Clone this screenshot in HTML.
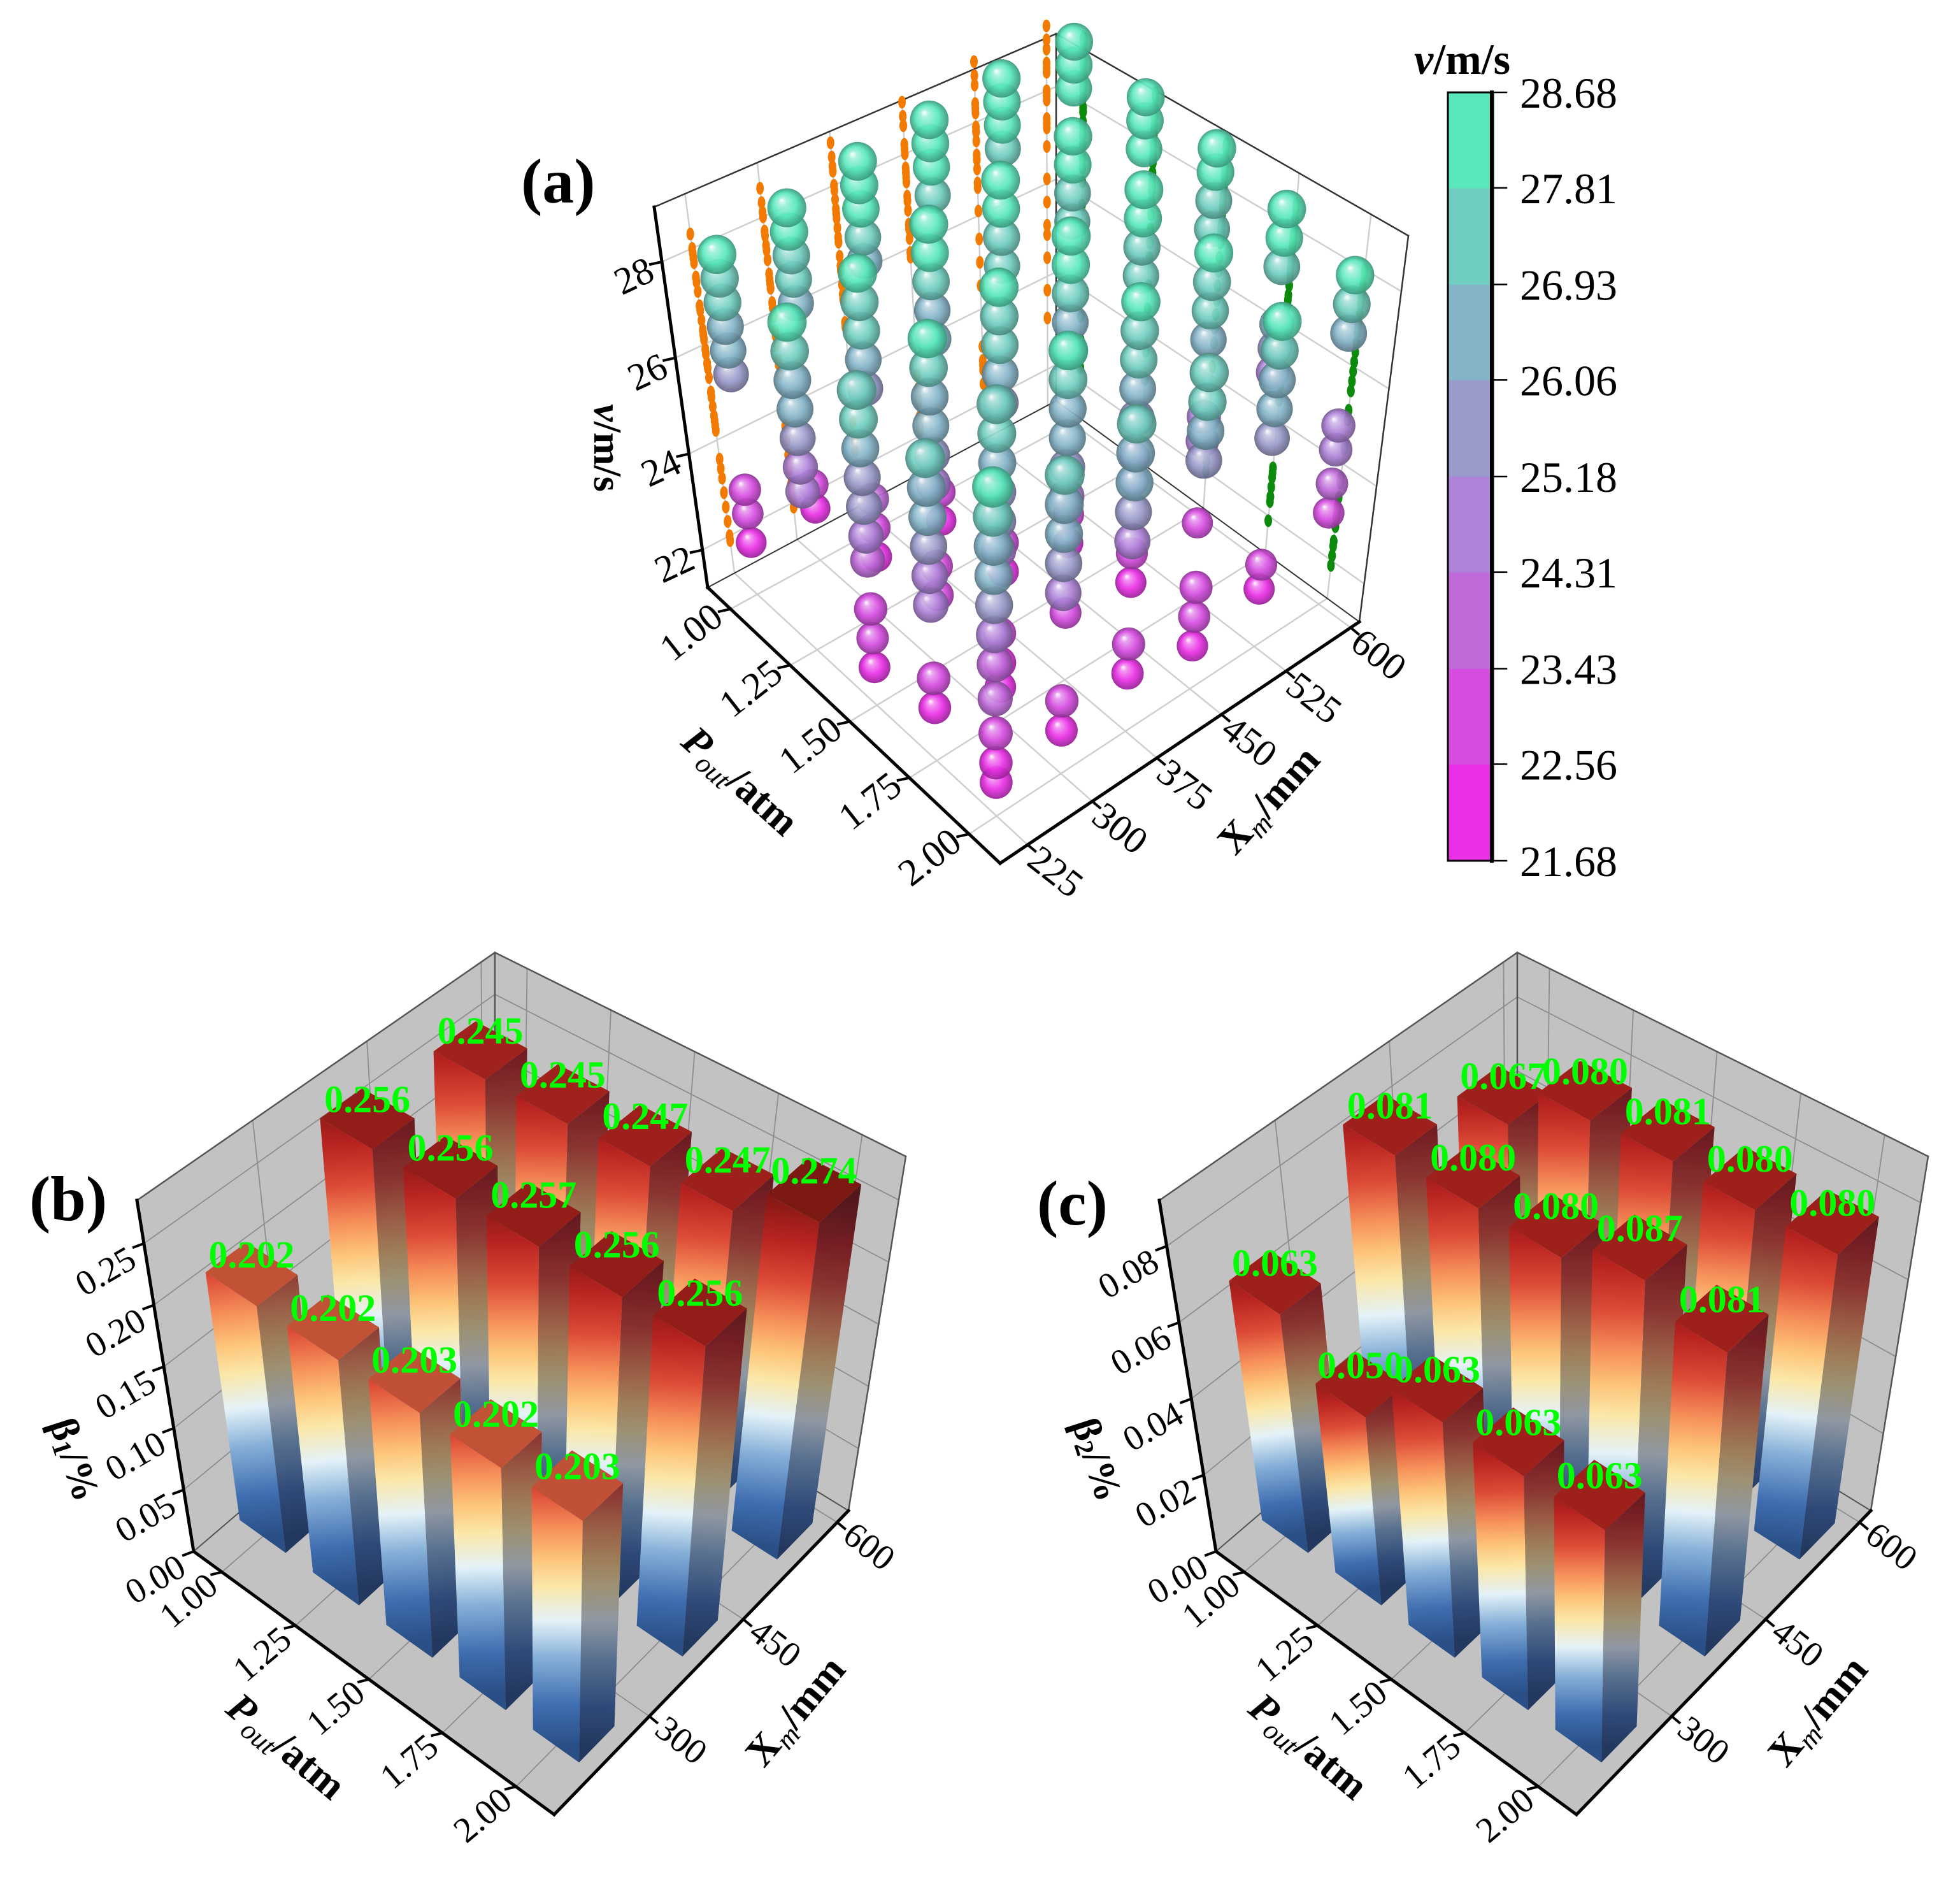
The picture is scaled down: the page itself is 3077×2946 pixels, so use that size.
<!DOCTYPE html>
<html><head><meta charset="utf-8"><title>3D velocity and beta charts</title>
<style>
html,body{margin:0;padding:0;background:#fff;}
svg{display:block;}
text{font-family:"Liberation Serif","DejaVu Serif",serif;}
</style></head>
<body>
<svg id="figure" xmlns="http://www.w3.org/2000/svg" width="3077" height="2946" viewBox="0 0 3077 2946">
<defs id="defs"></defs>
<rect x="0" y="0" width="3077" height="2946" fill="#ffffff"/>
<g id="panelA"></g>
<g id="panelB"></g>
<g id="panelC"></g>
<g id="colorbar"></g>
</svg>
<script>
// ===== Panel (a) data: v (m/s) per P_out row, per X_m column =====
const pCategories = [1.00, 1.25, 1.50, 1.75, 2.00];
const xCategoriesA = [225, 300, 375, 450, 525, 600];
const velAtP100 = [[28.3,27.8,27.3,26.8,26.3,25.8,23.4,22.9,22.3],[28.6,28.1,27.6,27.1,26.6,22.8,22.3],[28.9,28.4,27.9,27.3,26.8],[29.1,28.6,28.1,27.5],[29.3,28.8,28.3,27.8],[29.4,28.9,28.4]];
const velAtP125 = [[28.0,27.4,26.8,26.2,25.6,25.0,24.5],[28.3,27.7,27.1,26.5,25.9,23.6,23.0,22.4],[28.6,28.0,27.4,26.8,26.2,23.0,22.4],[28.8,28.2,27.6,27.0],[29.0,28.4,27.8,27.2],[29.1,28.6,28.0]];
const velAtP150 = [[27.7,27.1,26.5,25.9,25.3,24.7,24.2,23.2,22.6,22.0],[28.0,27.4,26.8,26.2,25.6,25.0,23.3,22.7],[28.3,27.7,27.1,26.5,25.9,23.0,22.4],[28.6,28.0,27.4,26.8,26.2,22.8,22.2],[28.8,28.2,27.6,27.0,23.2,22.7],[28.9,28.4,27.8,27.2]];
const velAtP175 = [[27.4,26.8,26.2,25.6,25.0,24.4,22.9,22.3],[27.7,27.1,26.5,25.9,25.3,24.7,23.0,22.4,21.9],[28.0,27.4,26.8,26.2,25.6,25.0,22.6],[28.2,27.6,27.0,26.4,25.8,23.0,22.4],[28.4,27.8,27.2,26.6,25.0,24.5,22.8],[28.5,27.9,27.3,26.1,25.6,25.1]];
const velAtP200 = [[27.9,27.3,26.7,26.1,25.5,24.9,24.3,23.6,22.9,22.3,21.9],[27.3,26.7,26.1,25.5,24.9,22.7,22.1],[27.5,26.9,26.3,25.7,25.1,23.0,22.4],[27.7,27.1,26.5,25.9,23.3,22.7,22.1],[27.9,27.3,26.7,26.1,25.5,22.9,22.4],[28.0,27.4,26.8,24.9,24.4,23.7,23.1]];
const velRows = [velAtP100, velAtP125, velAtP150, velAtP175, velAtP200];
const vTicks = [22, 24, 26, 28];
const pTickLabels = ["1.00","1.25","1.50","1.75","2.00"];
const xTicksA = [225, 300, 375, 450, 525, 600];
const colorbarTicks = [21.68, 22.56, 23.43, 24.31, 25.18, 26.06, 26.93, 27.81, 28.68];
const colorbarColors = ["#EA30E6","#D64CE0","#C06ADA","#AE82D8","#9A9ACB","#84B4C8","#70CEC0","#58E8BC"];

// ===== Panel (b)/(c) data =====
const xRowsBar = [240, 405, 556];
const xTicksBar = [300, 450, 600];
const beta1Front = [0.202, 0.202, 0.203, 0.202, 0.203];
const beta1Middle = [0.256, 0.256, 0.257, 0.256, 0.256];
const beta1Back = [0.245, 0.245, 0.247, 0.247, 0.274];
const beta2Front = [0.063, 0.050, 0.063, 0.063, 0.063];
const beta2Middle = [0.081, 0.080, 0.080, 0.087, 0.081];
const beta2Back = [0.067, 0.080, 0.081, 0.080, 0.080];
const beta1Ticks = [0.00, 0.05, 0.10, 0.15, 0.20, 0.25];
const beta2Ticks = [0.00, 0.02, 0.04, 0.06, 0.08];

const NS = 'http://www.w3.org/2000/svg';
const defs = document.getElementById('defs');
function mk(tag, attrs, parent){const e=document.createElementNS(NS,tag);for(const k in attrs)e.setAttribute(k,attrs[k]);parent.appendChild(e);return e;}
function pts(a){return a.map(p=>p[0].toFixed(1)+','+p[1].toFixed(1)).join(' ');}
function makeProj(g){
  return function(u,w,t){
    const f=[0,1].map(i=>g.L[i]*(1-u)*(1-w)+g.F[i]*u*(1-w)+g.B[i]*(1-u)*w+g.R[i]*u*w);
    const tp=[0,1].map(i=>g.Lt[i]*(1-u)*(1-w)+g.Ft[i]*u*(1-w)+g.Bt[i]*(1-u)*w+g.Rt[i]*u*w);
    return [f[0]+(tp[0]-f[0])*t, f[1]+(tp[1]-f[1])*t];
  };
}
function line(parent,a,b,stroke,width,name){
  const e=mk('line',{x1:a[0],y1:a[1],x2:b[0],y2:b[1],stroke:stroke,'stroke-width':width,'stroke-linecap':'square'},parent);
  
  
  return e;
}
function label(parent,x,y,str,size,rot,name){
  const e=mk('text',{x:0,y:0,'font-size':size,'text-anchor':'middle','dominant-baseline':'central',fill:'#000',transform:'translate('+x.toFixed(1)+','+y.toFixed(1)+') rotate('+rot+')'},parent);
  e.textContent=str;
  
  
  return e;
}
function hexToRgb(h){return [parseInt(h.substr(1,2),16),parseInt(h.substr(3,2),16),parseInt(h.substr(5,2),16)];}
function mix(h,target,f){const c=hexToRgb(h);return 'rgb('+c.map((v,i)=>Math.round(v+(target[i]-v)*f)).join(',')+')';}

function drawFrame(g, proj, o){
  const walls=mk('g',{},g);
  
  
  const faces=[[[0,0,0],[0,1,0],[0,1,1],[0,0,1]],[[0,1,0],[1,1,0],[1,1,1],[0,1,1]],[[0,0,0],[1,0,0],[1,1,0],[0,1,0]]];
  const fnames=['left-wall','right-wall','floor'];
  faces.forEach((f,i)=>{
    const p=mk('polygon',{points:pts(f.map(q=>proj(q[0],q[1],q[2]))),fill:o.fill,stroke:'none'},walls);
    
    
  });
  o.wTicks.forEach(w=>{line(walls,proj(0,w,0),proj(0,w,1),o.grid,o.gw,'gridline');line(walls,proj(0,w,0),proj(1,w,0),o.grid,o.gw,'gridline');});
  o.uTicks.forEach(u=>{line(walls,proj(u,1,0),proj(u,1,1),o.grid,o.gw,'gridline');line(walls,proj(u,0,0),proj(u,1,0),o.grid,o.gw,'gridline');});
  o.tTicks.forEach(t=>{line(walls,proj(0,0,t),proj(0,1,t),o.grid,o.gw,'gridline');line(walls,proj(0,1,t),proj(1,1,t),o.grid,o.gw,'gridline');});
  line(walls,proj(0,0,1),proj(0,1,1),o.edge,2.5,'box-edge');
  line(walls,proj(0,1,1),proj(1,1,1),o.edge,2.5,'box-edge');
  line(walls,proj(0,1,0),proj(0,1,1),o.edge,2.5,'box-edge');
  line(walls,proj(1,1,0),proj(1,1,1),o.edge,2.5,'box-edge');
  line(walls,proj(0,0,0),proj(0,1,0),o.edge,2,'box-edge');
  line(walls,proj(0,1,0),proj(1,1,0),o.edge,2,'box-edge');
  line(g,proj(0,0,0),proj(0,0,1),'#000',5,'z-axis-line');
  line(g,proj(0,0,0),proj(1,0,0),'#000',5,'p-axis-line');
  line(g,proj(1,0,0),proj(1,1,0),'#000',5,'x-axis-line');
}
function drawTicks(g, proj, o){
  o.tVals.forEach((v,i)=>{const p=proj(0,0,o.tOf(v));line(g,p,[p[0]+o.zDir[0],p[1]+o.zDir[1]],'#000',4,'z-tick');
    label(g,p[0]+o.zOff[0],p[1]+o.zOff[1],o.tLab[i],o.fs,o.zRot,'z-tick-label');});
  o.uVals.forEach((v,i)=>{const p=proj(o.uOf(v),0,0);line(g,p,[p[0]+o.pDir[0],p[1]+o.pDir[1]],'#000',4,'p-tick');
    label(g,p[0]+o.pOff[0],p[1]+o.pOff[1],o.uLab[i],o.fs,o.pRot,'p-tick-label');});
  o.wVals.forEach((v,i)=>{const p=proj(1,o.wOf(v),0);line(g,p,[p[0]+o.xDir[0],p[1]+o.xDir[1]],'#000',4,'x-tick');
    label(g,p[0]+o.xOff[0],p[1]+o.xOff[1],String(v),o.fs,o.xRot,'x-tick-label');});
}
function axisTitles(g,o){
  const tz=mk('text',{x:0,y:0,'font-size':62,'font-weight':'bold','text-anchor':'middle','dominant-baseline':'central',transform:'translate('+o.z[0]+','+o.z[1]+') rotate('+o.z[2]+')'},g);
  
  
  tz.innerHTML=o.zHtml;
  const tp=mk('text',{x:0,y:0,'font-size':64,'font-weight':'bold','text-anchor':'middle','dominant-baseline':'central',transform:'translate('+o.p[0]+','+o.p[1]+') rotate('+o.p[2]+')'},g);
  
  
  tp.innerHTML='<tspan font-style="italic">P</tspan><tspan font-style="italic" font-weight="normal" font-size="44" dy="18">out</tspan><tspan dy="-18">/atm</tspan>';
  const tx=mk('text',{x:0,y:0,'font-size':64,'font-weight':'bold','text-anchor':'middle','dominant-baseline':'central',transform:'translate('+o.x[0]+','+o.x[1]+') rotate('+o.x[2]+')'},g);
  
  
  tx.innerHTML='X<tspan font-style="italic" font-weight="normal" font-size="44" dy="18">m</tspan><tspan dy="-18">/mm</tspan>';
  const pl=mk('text',{x:o.lab[0],y:o.lab[1],'font-size':100,'font-weight':'bold'},g);
  
  
  pl.textContent=o.lab[2];
}

// ===== Panel (a) =====
(function(){
  const g=document.getElementById('panelA');
  const geo={L:[1111,922],F:[1570,1355],R:[2134,976],B:[1658,629],Lt:[1027,325],Ft:[1565,740],Rt:[2211,370],Bt:[1658,53]};
  const proj=makeProj(geo);
  const uOf=p=>(p-0.904)/(2.13-0.904);
  const wOf=x=>(x-193)/(610-193);
  const tOf=v=>(v-21.22)/(29.14-21.22);
  drawFrame(g,proj,{fill:'#ffffff',grid:'#cfcfcf',gw:2.5,edge:'#333',
    uTicks:pCategories.map(uOf),wTicks:xTicksA.map(wOf),tTicks:vTicks.map(tOf)});
  drawTicks(g,proj,{tVals:vTicks,tLab:vTicks.map(String),tOf:tOf,uVals:pCategories,uLab:pTickLabels,uOf:uOf,wVals:xTicksA,wOf:wOf,
    fs:60,zDir:[-18,4],zOff:[-44,22],zRot:-25,pDir:[-18,4],pOff:[-62,36],pRot:-38,xDir:[12,10],xOff:[44,42],xRot:38});
  colorbarColors.forEach((c,i)=>{
    const rg=mk('radialGradient',{id:'sph'+i,cx:'50%',cy:'50%',r:'50%',fx:'36%',fy:'30%'},defs);
    mk('stop',{offset:'0','stop-color':'#ffffff'},rg);
    mk('stop',{offset:'0.2','stop-color':mix(c,[255,255,255],0.45)},rg);
    mk('stop',{offset:'0.6','stop-color':c},rg);
    mk('stop',{offset:'1','stop-color':mix(c,[0,0,0],0.35)},rg);
  });
  const items=[];
  velRows.forEach((row,pi)=>row.forEach((col,xi)=>col.forEach(v=>items.push({p:pCategories[pi],x:xCategoriesA[xi],v:v}))));
  const proj1=mk('g',{},g);
  
  
  const proj2=mk('g',{},g);
  
  
  items.forEach(it=>{
    const a=proj(0,wOf(it.x),tOf(it.v));
    const e1=mk('ellipse',{cx:a[0],cy:a[1],rx:6,ry:10,fill:'#f27a00'},proj1);
    
    
    const b=proj(uOf(it.p),1,tOf(it.v));
    const e2=mk('ellipse',{cx:b[0],cy:b[1],rx:6,ry:10,fill:'#0b8a0b'},proj2);
    
    
  });
  items.sort((a,b)=>{const da=uOf(a.p)-wOf(a.x),db=uOf(b.p)-wOf(b.x);if(Math.abs(da-db)>1e-6)return da-db;return a.v-b.v;});
  const sg=mk('g',{},g);
  
  
  items.forEach(it=>{
    const u=uOf(it.p),w=wOf(it.x),p=proj(u,w,tOf(it.v));
    const band=Math.max(0,Math.min(7,Math.floor((it.v-21.68)/0.875)));
    const r=21+(it.v-21.7)*1.1+(u-w+1)*2.5;
    const c=mk('circle',{cx:p[0].toFixed(1),cy:p[1].toFixed(1),r:r.toFixed(1),fill:'url(#sph'+band+')','fill-opacity':0.93},sg);
    
    
  });
  axisTitles(g,{zHtml:'<tspan font-style="italic">v</tspan>/m/s',z:[953,703,90],p:[1163,1225,42],x:[1991,1255,-48],lab:[818,318,'(a)']});
})();

// ===== Bar panels =====
const barStops=[[0,'#2a4f86'],[0.12,'#3f6db0'],[0.26,'#86b0d8'],[0.37,'#e4f2f8'],[0.47,'#fbe7a8'],[0.55,'#fdc57a'],[0.64,'#f6905a'],[0.75,'#dc4a36'],[0.87,'#b82320'],[1,'#7e1712']];
function colorAtT(t){
  for(let i=1;i<barStops.length;i++){if(t<=barStops[i][0]){const a=barStops[i-1],b=barStops[i];const f=(t-a[0])/(b[0]-a[0]);const ca=hexToRgb(a[1]),cb=hexToRgb(b[1]);return '#'+ca.map((v,k)=>Math.round(v+(cb[k]-v)*f).toString(16).padStart(2,'0')).join('');}}
  return barStops[barStops.length-1][1];
}
let gradCount=0;
function barPanel(gid, dx, rows, ticks, zmax, cmaxFn, zLab, lab){
  const g=document.getElementById(gid);
  const geo={L:[304+dx,2435],F:[870+dx,2848],R:[1332+dx,2371],B:[777+dx,2030],Lt:[215+dx,1884],Ft:[870+dx,2320],Rt:[1422+dx,1815],Bt:[777+dx,1495]};
  const proj=makeProj(geo);
  const uOf=p=>(p-0.904)/(2.13-0.904);
  const wOf=x=>(x-148)/(618-148);
  const tOf=v=>v/zmax;
  drawFrame(g,proj,{fill:'#c2c2c2',grid:'#8e8e8e',gw:1.8,edge:'#555',
    uTicks:pCategories.map(uOf),wTicks:xTicksBar.map(wOf),tTicks:ticks.map(tOf)});
  drawTicks(g,proj,{tVals:ticks,tLab:ticks.map(t=>t.toFixed(2)),tOf:tOf,uVals:pCategories,uLab:pTickLabels,uOf:uOf,wVals:xTicksBar,wOf:wOf,
    fs:56,zDir:[-16,6],zOff:[-60,44],zRot:-30,pDir:[-16,4],pOff:[-52,45],pRot:-40,xDir:[12,10],xOff:[50,38],xRot:38});
  const bars=[];
  rows.forEach((row,ri)=>row.forEach((v,pi)=>bars.push({p:pCategories[pi],x:xRowsBar[ri],v:v})));
  bars.sort((a,b)=>(uOf(a.p)-wOf(a.x))-(uOf(b.p)-wOf(b.x)));
  const hu=0.064,hw=0.06;
  const bg=mk('g',{},g);
  
  
  bars.forEach(b=>{
    const u=uOf(b.p),w=wOf(b.x),t=tOf(b.v);
    const cmax=cmaxFn(b.v);
    const ct=cmax/zmax;
    const u0=u-hu,u1=u+hu,w0=w-hw,w1=w+hw;
    const id='bg'+(gradCount++);
    const y0=proj(u,w0,0),y1=proj(u,w0,ct);
    const lg=mk('linearGradient',{id:id,gradientUnits:'userSpaceOnUse',x1:y0[0],y1:y0[1],x2:y1[0],y2:y1[1]},defs);
    barStops.forEach(s=>mk('stop',{offset:s[0],'stop-color':s[1]},lg));
    const bar=mk('g',{},bg);
    
    
    const lf=mk('polygon',{points:pts([proj(u0,w0,0),proj(u1,w0,0),proj(u1,w0,t),proj(u0,w0,t)]),fill:'url(#'+id+')'},bar);
    
    
    const rp=pts([proj(u1,w0,0),proj(u1,w1,0),proj(u1,w1,t),proj(u1,w0,t)]);
    const rf=mk('polygon',{points:rp,fill:'url(#'+id+')'},bar);
    
    
    const rs=mk('polygon',{points:rp,fill:'#1a1a2a','fill-opacity':0.42},bar);
    
    
    const tf=mk('polygon',{points:pts([proj(u0,w0,t),proj(u1,w0,t),proj(u1,w1,t),proj(u0,w1,t)]),fill:mix(colorAtT(Math.min(1,b.v/cmax)),[60,20,10],0.22)},bar);
    
    
    const c=proj(u,w,t);
    const tx=mk('text',{x:c[0].toFixed(1),y:(c[1]-10).toFixed(1),'font-size':60,'font-weight':'bold','text-anchor':'middle',fill:'#00ff00'},bar);
    tx.textContent=b.v.toFixed(3);
    
    
  });
  axisTitles(g,{zHtml:zLab,z:[117+dx,2291,72],p:[450+dx,2740,40],x:[1248+dx,2685,-50],lab:lab});
}
barPanel('panelB',0,[beta1Front,beta1Middle,beta1Back],beta1Ticks,0.285,v=>0.285,'β<tspan font-size="42" dy="14">1</tspan><tspan dy="-14">/%</tspan>',[46,1915,'(b)']);
barPanel('panelC',1605,[beta2Front,beta2Middle,beta2Back],beta2Ticks,0.092,v=>v*1.15,'β<tspan font-size="42" dy="14">2</tspan><tspan dy="-14">/%</tspan>',[1628,1922,'(c)']);

// ===== Colorbar =====
(function(){
  const g=document.getElementById('colorbar');
  const top=145,bot=1351,x0=2273,x1=2344;
  const vmin=colorbarTicks[0],vmax=colorbarTicks[colorbarTicks.length-1];
  const yOf=v=>bot-(v-vmin)/(vmax-vmin)*(bot-top);
  colorbarColors.forEach((c,i)=>{
    const ya=yOf(colorbarTicks[i+1]),yb=yOf(colorbarTicks[i]);
    const r=mk('rect',{x:x0,y:ya.toFixed(1),width:x1-x0,height:(yb-ya+0.5).toFixed(1),fill:c},g);
    
    
  });
  const fr=mk('rect',{x:x0,y:top,width:x1-x0,height:bot-top,fill:'none',stroke:'#000','stroke-width':3},g);
  
  
  line(g,[x1-2,top],[x1-2,bot],'#000',6,'colorbar-axis');
  colorbarTicks.forEach(v=>{
    const y=yOf(v);
    line(g,[x1,y],[2365,y],'#000',2.5,'colorbar-tick');
    const t=mk('text',{x:2386,y:(y+24).toFixed(1),'font-size':68,fill:'#000'},g);
    t.textContent=v.toFixed(2);
    
    
  });
  const tt=mk('text',{x:2220,y:116,'font-size':68,'font-weight':'bold'},g);
  tt.innerHTML='<tspan font-style="italic">v</tspan>/m/s';
  
  
})();
</script>
</body></html>
